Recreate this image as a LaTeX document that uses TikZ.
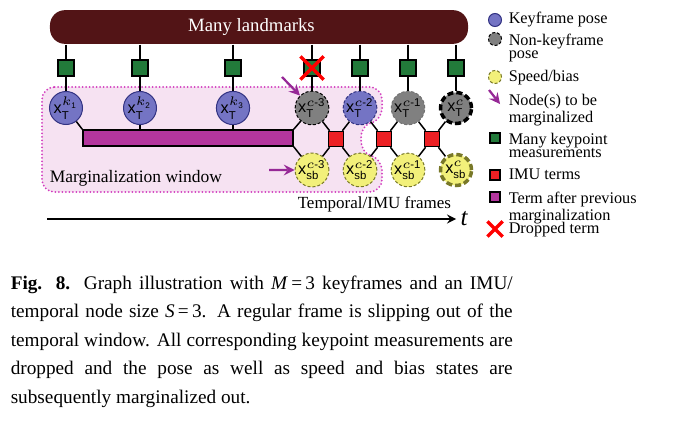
\documentclass[tikz,border=0pt]{standalone}
\usepackage{amsmath}
\usepackage{fontspec}
\setmainfont{Liberation Serif}
\setsansfont{Liberation Sans}
\usepackage{xcolor}
\usepackage{tikz}
\usetikzlibrary{shapes.misc, arrows, calc}

\definecolor{landmark}{RGB}{82,20,22}
\definecolor{kpgreen}{RGB}{34,122,58}
\definecolor{imured}{RGB}{236,32,36}
\definecolor{priormag}{RGB}{180,54,158}
\definecolor{keyblue}{RGB}{116,116,196}
\definecolor{keyborder}{RGB}{50,50,130}
\definecolor{posegray}{RGB}{128,128,128}
\definecolor{sbyellow}{RGB}{242,240,122}
\definecolor{sbborder}{RGB}{120,120,40}
\definecolor{winpink}{RGB}{246,226,242}
\definecolor{windot}{RGB}{210,60,190}
\definecolor{margpurple}{RGB}{150,40,150}

\begin{document}
\begin{tikzpicture}[x=0.4pt, y=-0.4pt, node distance=19.2pt, line width=0.6pt]

\tikzstyle{landmarks} = [rectangle, rounded corners=6pt, minimum width=167.2pt, minimum height=12pt, fill=landmark, text=white, font=\fontsize{7.5}{8}\selectfont]
\tikzstyle{kpmeas} = [rectangle, minimum size=6.4pt, inner sep=0pt, draw=black, fill=kpgreen]
\tikzstyle{imuterm} = [rectangle, minimum size=6pt, inner sep=0pt, draw=black, fill=imured]
\tikzstyle{priorterm} = [rectangle, minimum width=84pt, minimum height=6.4pt, inner sep=0pt, draw=black, fill=priormag]
\tikzstyle{statenode} = [circle, minimum size=12.4pt, inner sep=0pt, line width=0.4pt, font=\fontsize{6.5}{6}\selectfont]
\tikzstyle{keypose} = [statenode, fill=keyblue, draw=keyborder]
\tikzstyle{nonkeypose} = [statenode, fill=posegray, draw=black, dash pattern=on 1.2pt off 0.8pt]
\tikzstyle{speedbias} = [statenode, fill=sbyellow, draw=sbborder, dash pattern=on 1.2pt off 0.8pt]
\tikzstyle{newest} = [line width=1.4pt, dash pattern=on 2.4pt off 1.2pt]
\tikzstyle{dropped} = [cross out, draw=red, line width=1.3pt, minimum size=8pt, inner sep=0pt]
\tikzstyle{margarrow} = [margpurple, line width=0.9pt, ->, >=stealth]
\tikzstyle{timeaxis} = [->, >=stealth, line width=0.6pt]
\tikzstyle{window} = [fill=winpink, draw=windot, line width=0.8pt, line cap=round, dash pattern=on 0pt off 1.4pt, rounded corners=5pt]
\tikzstyle{plaintext} = [font=\fontsize{7}{7}\selectfont, inner sep=0pt, anchor=base west]
\tikzstyle{legtext} = [font=\fontsize{6.5}{5.4}\selectfont, inner sep=0pt, anchor=base west, align=left]
\tikzstyle{legtwo} = [legtext, anchor=north west]

\useasboundingbox (0,0) rectangle (684,426);

% Window
\path [window] (42,87) -- (382,87) -- (382,121) .. controls (358,126) and (358,152) .. (382,158) -- (382,192) -- (42,192) -- cycle;

% Nodes
\node (lm) [landmarks] at (259,27) {Many landmarks\hspace*{6pt}};

\node (p1) [keypose] at (66,108) {$\mathsf{x}_{\mathsf{T}}^{k_{\mathsf{1}}}$};
\node (p2) [keypose] at (140,108) {$\mathsf{x}_{\mathsf{T}}^{k_{\mathsf{2}}}$};
\node (p3) [keypose] at (233,108) {$\mathsf{x}_{\mathsf{T}}^{k_{\mathsf{3}}}$};
\node (pc3) [nonkeypose] at (312,108) {$\mathsf{x}_{\mathsf{T}}^{c\textsf{-3}}$};
\node (pc2) [keypose, dash pattern=on 1.2pt off 0.8pt, right of=pc3] {$\mathsf{x}_{\mathsf{T}}^{c\textsf{-2}}$};
\node (pc1) [nonkeypose, draw=black!55, right of=pc2] {$\mathsf{x}_{\mathsf{T}}^{c\textsf{-1}}$};
\node (pc) [nonkeypose, newest, right of=pc1] {$\mathsf{x}_{\mathsf{T}}^{c}$};

\node (sbc3) [speedbias, below of=pc3, yshift=-5.6pt] {$\mathsf{x}_{\mathsf{sb}}^{c\textsf{-3}}$};
\node (sbc2) [speedbias, below of=pc2, yshift=-5.6pt] {$\mathsf{x}_{\mathsf{sb}}^{c\textsf{-2}}$};
\node (sbc1) [speedbias, below of=pc1, yshift=-5.6pt] {$\mathsf{x}_{\mathsf{sb}}^{c\textsf{-1}}$};
\node (sbc) [speedbias, newest, below of=pc, yshift=-5.6pt] {$\mathsf{x}_{\mathsf{sb}}^{c}$};

\node (m1) [kpmeas, above of=p1, yshift=-3.2pt] {};
\node (m2) [kpmeas, above of=p2, yshift=-3.2pt] {};
\node (m3) [kpmeas, above of=p3, yshift=-3.2pt] {};
\node (mc3) [kpmeas, above of=pc3, yshift=-3.2pt] {};
\node (mc2) [kpmeas, above of=pc2, yshift=-3.2pt] {};
\node (mc1) [kpmeas, above of=pc1, yshift=-3.2pt] {};
\node (mc) [kpmeas, above of=pc, yshift=-3.2pt] {};

\node (prior) [priorterm] at (188,138) {};
\node (r1) [imuterm] at ($(pc3)!0.5!(sbc2)$) {};
\node (r2) [imuterm] at ($(pc2)!0.5!(sbc1)$) {};
\node (r3) [imuterm] at ($(pc1)!0.5!(sbc)$) {};

% Edges
\draw (lm.south -| m1) -- (m1);
\draw (lm.south -| m2) -- (m2);
\draw (lm.south -| m3) -- (m3);
\draw (lm.south -| mc3) -- (mc3);
\draw (lm.south -| mc2) -- (mc2);
\draw (lm.south -| mc1) -- (mc1);
\draw (lm.south -| mc) -- (mc);
\draw (m1) -- (p1);
\draw (m2) -- (p2);
\draw (m3) -- (p3);
\draw (mc3) -- (pc3);
\draw (mc2) -- (pc2);
\draw (mc1) -- (pc1);
\draw (mc) -- (pc);
\draw (p1) -- (prior.north west);
\draw (p2) -- (p2 |- prior.north);
\draw (p3) -- (p3 |- prior.north);
\draw (prior.north east) -- (pc3);
\draw (prior.south east) -- (sbc3);
\draw (pc3) -- (r1);
\draw (r1) -- (pc2);
\draw (sbc3) -- (r1);
\draw (r1) -- (sbc2);
\draw (pc2) -- (r2);
\draw (r2) -- (pc1);
\draw (sbc2) -- (r2);
\draw (r2) -- (sbc1);
\draw (pc1) -- (r3);
\draw (r3) -- (pc);
\draw (sbc1) -- (r3);
\draw (r3) -- (sbc);

\node (drop) [dropped] at (mc3) {};

% Marginalization arrows
\coordinate (ma1) at (282,77);
\coordinate (ma2) at (269,170);
\draw [margarrow] (ma1) -- (pc3);
\draw [margarrow] (ma2) -- (sbc3);

% Texts and time axis
\node (mwin) [plaintext] at (49,182) {Marginalization window};
\node (tframes) [plaintext, font=\fontsize{6.8}{7}\selectfont] at (297,208) {Temporal/IMU frames};
\coordinate (t0) at (47,219);
\coordinate (t1) at (456,219);
\draw [timeaxis] (t0) -- (t1);
\node (tlab) [right, inner sep=1.5pt, font=\fontsize{10}{10}\selectfont] at (t1) {\textit{t}};

% Legend
\node (lg1) [keypose, minimum size=5.2pt] at (495,20) {};
\node (lt1) [legtext] at (508,24) {Keyframe pose};
\node (lg2) [nonkeypose, minimum size=5.2pt] at (495,39) {};
\node (lt2) [legtwo] at (508,33) {Non-keyframe\\pose};
\node (lg3) [speedbias, minimum size=5.2pt] at (495,77) {};
\node (lt3) [legtext] at (508,82) {Speed/bias};
\coordinate (lg4a) at (489,90);
\coordinate (lg4b) at (500,104);
\draw [margarrow] (lg4a) -- (lg4b);
\node (lt4) [legtwo] at (508,93) {Node(s) to be\\marginalized};
\node (lg5) [kpmeas, minimum size=4pt] at (495,138) {};
\node (lt5) [legtwo] at (508,132) {Many keypoint\\measurements};
\node (lg6) [imuterm, minimum size=4pt] at (495,175) {};
\node (lt6) [legtext] at (508,179) {IMU terms};
\node (lg7) [priorterm, minimum width=4pt, minimum height=4pt] at (495,197) {};
\node (lt7) [legtwo] at (508,191) {Term after previous\\marginalization};
\node (lg8) [dropped, minimum size=4.8pt] at (495,229) {};
\node (lt8) [legtext] at (508,233) {Dropped term};

% Caption
\node (caption) [anchor=north west, text width=200.8pt, align=justify, inner sep=0pt, font=\fontsize{7.7}{11.4}\selectfont] at (10,275) {\textbf{Fig. 8.} Graph illustration with \textit{M}\,=\,3 keyframes and an IMU/\linebreak temporal node size \textit{S}\,=\,3. A regular frame is slipping out of the\linebreak temporal window. All corresponding keypoint measurements are\linebreak dropped and the pose as well as speed and bias states are\linebreak subsequently marginalized out.};

\end{tikzpicture}
\end{document}
